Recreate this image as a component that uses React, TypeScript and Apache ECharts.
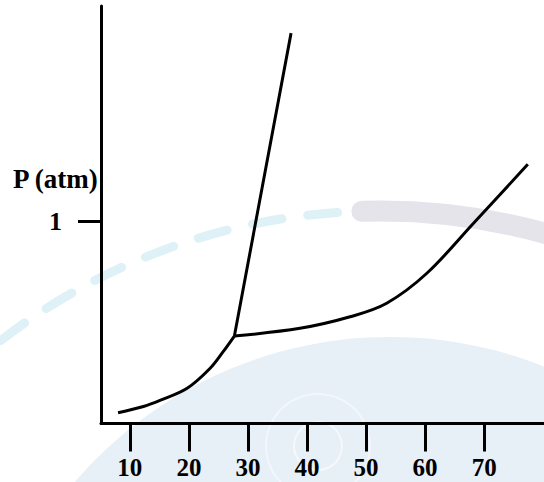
import React, { useEffect, useRef } from "react";
import * as echarts from "echarts";

// Tick values
const xTicks = [10, 20, 30, 40, 50, 60, 70];
const yTicks = [1];

// Sublimation curve (solid / gas)
const sublimationT = [8.0, 12.3, 15.1, 19.7, 23.6, 25.8, 27.7];
const sublimationP = [0.053, 0.084, 0.114, 0.174, 0.273, 0.355, 0.432];

// Fusion curve (solid / liquid)
const fusionT = [27.7, 32.5, 37.3];
const fusionP = [0.432, 1.18, 1.928];

// Vaporization curve (liquid / gas)
const vaporT = [27.7, 38.8, 47.3, 53.5, 60.3, 68.2, 77.4];
const vaporP = [0.432, 0.47, 0.527, 0.594, 0.742, 0.989, 1.28];

const yName = "P (atm)";

const FONT = "Liberation Serif";

function pairs(xs: number[], ys: number[]) {
  return xs.map((x, i) => [x, ys[i]]);
}

export default function App() {
  const ref = useRef<HTMLDivElement>(null);
  useEffect(() => {
    if (!ref.current) return;
    const chart = echarts.init(ref.current, undefined, { renderer: "svg" });
    const lineStyle = { color: "#000", width: 3 };
    chart.setOption({
      animation: false,
      backgroundColor: "#fff",
      textStyle: { fontFamily: FONT },
      grid: {
        left: 101,
        right: 0,
        top: 6,
        bottom: 58.5,
        containLabel: false,
        outerBoundsMode: "none",
      },
      xAxis: {
        type: "value",
        min: 5.11,
        max: 80.14,
        splitLine: { show: false },
        axisLine: { onZero: false, lineStyle: { color: "#000", width: 3 } },
        axisTick: {
          customValues: xTicks,
          length: 28,
          lineStyle: { color: "#000", width: 3 },
        },
        axisLabel: {
          customValues: xTicks,
          margin: 31,
          color: "#000",
          fontSize: 25,
          fontWeight: "bold",
          fontFamily: FONT,
        },
      },
      yAxis: {
        type: "value",
        min: 0,
        max: 2.062,
        splitLine: { show: false },
        axisLine: { onZero: false, lineStyle: { color: "#000", width: 3 } },
        axisTick: {
          customValues: yTicks,
          length: 23,
          lineStyle: { color: "#000", width: 3 },
        },
        axisLabel: {
          customValues: yTicks,
          margin: 39,
          color: "#000",
          fontSize: 26,
          fontWeight: "bold",
          fontFamily: FONT,
        },
      },
      graphic: [
        {
          type: "circle",
          z: -10,
          silent: true,
          shape: { cx: 390, cy: 752, r: 415 },
          style: { fill: "#e7eff7" },
        },
        {
          type: "circle",
          z: -9,
          silent: true,
          shape: { cx: 318, cy: 446, r: 24 },
          style: { fill: "none", stroke: "#ffffff", lineWidth: 2, opacity: 0.6 },
        },
        {
          type: "circle",
          z: -9,
          silent: true,
          shape: { cx: 318, cy: 446, r: 52 },
          style: { fill: "none", stroke: "#ffffff", lineWidth: 2, opacity: 0.5 },
        },
        {
          type: "arc",
          z: -9,
          silent: true,
          shape: { cx: 380, cy: 831, r: 620, startAngle: -2.32, endAngle: -1.62 },
          style: { fill: "none", stroke: "#def1f6", lineWidth: 9, lineDash: [30, 26], lineCap: "round" },
        },
        {
          type: "arc",
          z: -9,
          silent: true,
          shape: { cx: 380, cy: 831, r: 620, startAngle: -1.6, endAngle: -1.2 },
          style: { fill: "none", stroke: "#e4e4ea", lineWidth: 21, lineCap: "round" },
        },
        {
          type: "text",
          z: 10,
          left: 13,
          top: 165,
          style: {
            text: yName,
            fill: "#000",
            fontFamily: FONT,
            fontSize: 27,
            fontWeight: "bold",
          },
        },
      ],
      series: [
        {
          name: "sublimation",
          type: "line",
          data: pairs(sublimationT, sublimationP),
          smooth: 0.35,
          showSymbol: false,
          lineStyle,
        },
        {
          name: "fusion",
          type: "line",
          data: pairs(fusionT, fusionP),
          showSymbol: false,
          lineStyle,
        },
        {
          name: "vaporization",
          type: "line",
          data: pairs(vaporT, vaporP),
          smooth: 0.35,
          showSymbol: false,
          lineStyle,
        },
      ],
    });
    return () => chart.dispose();
  }, []);
  return (
    <div
      ref={ref}
      style={{ position: "absolute", left: 0, top: 0, width: 544, height: 482 }}
    />
  );
}
